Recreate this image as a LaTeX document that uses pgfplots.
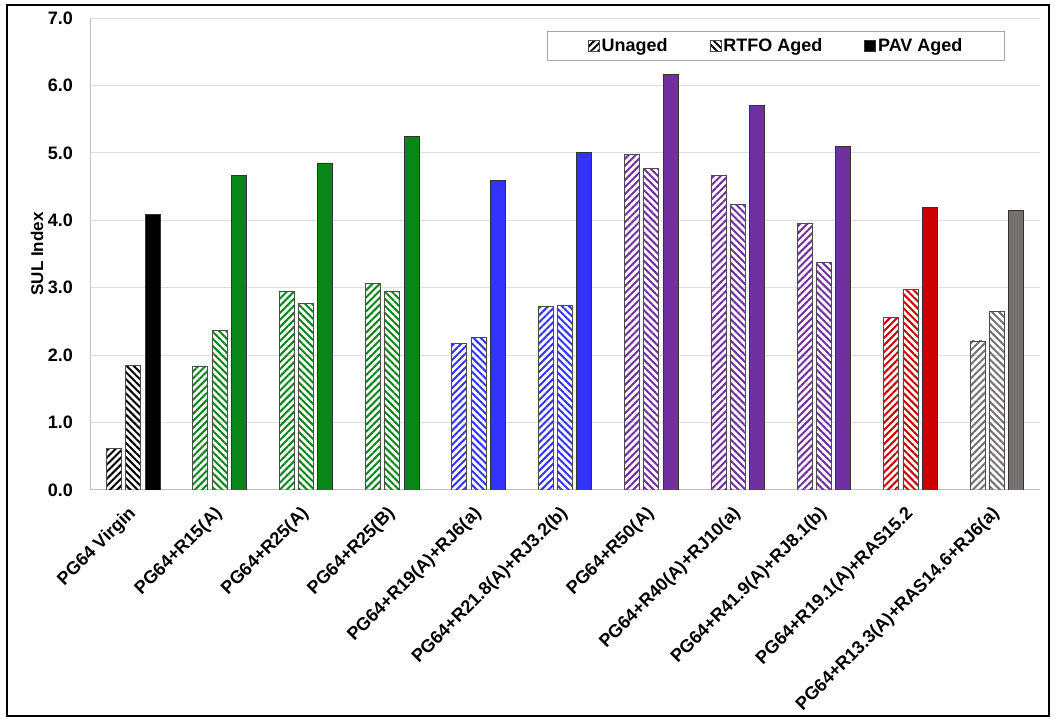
\documentclass[border=0pt]{standalone}
\usepackage{fontspec}
\setmainfont{Liberation Sans}
\usepackage{pgfplots}
\pgfplotsset{compat=1.18}
\usepackage{pgfplotstable}
\usetikzlibrary{patterns.meta}

\definecolor{cBlack}{RGB}{0,0,0}
\definecolor{cGreen}{RGB}{8,134,24}
\definecolor{cBlue}{RGB}{51,51,255}
\definecolor{cPurple}{RGB}{112,48,160}
\definecolor{cRed}{RGB}{204,0,0}
\definecolor{cGray}{RGB}{118,113,113}

% x  unaged  rtfo  pav
\pgfplotstableread{
x u r p
0 0.62 1.85 4.09
}\tblack
\pgfplotstableread{
x u r p
1 1.84 2.37 4.66
2 2.94 2.77 4.85
3 3.06 2.94 5.25
}\tgreen
\pgfplotstableread{
x u r p
4 2.17 2.26 4.59
5 2.73 2.74 5.00
}\tblue
\pgfplotstableread{
x u r p
6 4.97 4.77 6.16
7 4.67 4.24 5.70
8 3.96 3.37 5.10
}\tpurple
\pgfplotstableread{
x u r p
9 2.56 2.97 4.19
}\tred
\pgfplotstableread{
x u r p
10 2.21 2.65 4.15
}\tgray

\tikzset{
  unaged/.style={pattern={Lines[angle=45,distance=5pt,line width=2pt]}, pattern color=#1, draw=black!70, line width=0.8pt},
  rtfo/.style={pattern={Lines[angle=-45,distance=5pt,line width=2pt]}, pattern color=#1, draw=black!70, line width=0.8pt},
  pav/.style={fill=#1, draw=black!80, line width=0.8pt},
}

\newcommand{\fnt}{\bfseries\fontsize{18}{21}\selectfont}
\newcommand{\yfnt}{\bfseries\fontsize{18}{21}\selectfont}

\begin{document}
\begin{tikzpicture}
\path[use as bounding box] (0,0) rectangle (1055pt,720pt);
\draw[line width=1.3pt, black] (7pt,4pt) rectangle (1049pt,715pt);
\begin{axis}[
  at={(90pt,230pt)}, anchor=south west,
  width=950pt, height=472pt, scale only axis,
  xmin=-0.5, xmax=10.5, ymin=0, ymax=7,
  /pgf/number format/assume math mode=true,
  ytick={0,1,2,3,4,5,6,7},
  yticklabel style={/pgf/number format/.cd, fixed, fixed zerofill, precision=1, /tikz/.cd, font=\yfnt, anchor=east, inner sep=0pt, xshift=-17pt},
  xtick={0,1,2,3,4,5,6,7,8,9,10},
  xticklabels={PG64 Virgin, PG64+R15(A), PG64+R25(A), PG64+R25(B), PG64+R19(A)+RJ6(a), PG64+R21.8(A)+RJ3.2(b), PG64+R50(A), PG64+R40(A)+RJ10(a), PG64+R41.9(A)+RJ8.1(b), PG64+R19.1(A)+RAS15.2, PG64+R13.3(A)+RAS14.6+RJ6(a)},
  xticklabel style={font=\fnt, xshift=0pt, yshift=-21pt, rotate=45, anchor=east, inner sep=0pt},
  major tick length=0pt,
  axis x line*=bottom, axis y line*=left,
  axis line style={-, draw=gray!50, line width=1pt},
  ymajorgrids, grid style={draw=gray!25, line width=1pt},
  every axis y label/.style={at={(axis description cs:-0.0558,0.5)}, rotate=90, anchor=center, font=\bfseries\fontsize{17}{20}\selectfont},
  ylabel={SUL Index},
  legend columns=3,
  legend style={at={(0.963,0.972)}, anchor=north east, draw=gray!70, line width=0.8pt,
    font=\fnt, inner xsep=40pt, inner ysep=5pt,
    /tikz/every even column/.append style={column sep=40pt}},
  legend image code/.code={\draw[#1] (0pt,-5.5pt) rectangle (11pt,5.5pt);},
]
% black (legend)
\addplot[ybar, bar width=15pt, bar shift=-19.3pt, unaged=cBlack] table[x=x,y=u]{\tblack};
\addlegendentry{Unaged}
\addplot[ybar, bar width=15pt, bar shift=0pt, rtfo=cBlack] table[x=x,y=r]{\tblack};
\addlegendentry{RTFO Aged}
\addplot[ybar, bar width=15pt, bar shift=19.3pt, pav=cBlack] table[x=x,y=p]{\tblack};
\addlegendentry{PAV Aged}
% green
\addplot[forget plot, ybar, bar width=15pt, bar shift=-19.3pt, unaged=cGreen] table[x=x,y=u]{\tgreen};
\addplot[forget plot, ybar, bar width=15pt, bar shift=0pt, rtfo=cGreen] table[x=x,y=r]{\tgreen};
\addplot[forget plot, ybar, bar width=15pt, bar shift=19.3pt, pav=cGreen] table[x=x,y=p]{\tgreen};
% blue
\addplot[forget plot, ybar, bar width=15pt, bar shift=-19.3pt, unaged=cBlue] table[x=x,y=u]{\tblue};
\addplot[forget plot, ybar, bar width=15pt, bar shift=0pt, rtfo=cBlue] table[x=x,y=r]{\tblue};
\addplot[forget plot, ybar, bar width=15pt, bar shift=19.3pt, pav=cBlue] table[x=x,y=p]{\tblue};
% purple
\addplot[forget plot, ybar, bar width=15pt, bar shift=-19.3pt, unaged=cPurple] table[x=x,y=u]{\tpurple};
\addplot[forget plot, ybar, bar width=15pt, bar shift=0pt, rtfo=cPurple] table[x=x,y=r]{\tpurple};
\addplot[forget plot, ybar, bar width=15pt, bar shift=19.3pt, pav=cPurple] table[x=x,y=p]{\tpurple};
% red
\addplot[forget plot, ybar, bar width=15pt, bar shift=-19.3pt, unaged=cRed] table[x=x,y=u]{\tred};
\addplot[forget plot, ybar, bar width=15pt, bar shift=0pt, rtfo=cRed] table[x=x,y=r]{\tred};
\addplot[forget plot, ybar, bar width=15pt, bar shift=19.3pt, pav=cRed] table[x=x,y=p]{\tred};
% gray
\addplot[forget plot, ybar, bar width=15pt, bar shift=-19.3pt, unaged=cGray] table[x=x,y=u]{\tgray};
\addplot[forget plot, ybar, bar width=15pt, bar shift=0pt, rtfo=cGray] table[x=x,y=r]{\tgray};
\addplot[forget plot, ybar, bar width=15pt, bar shift=19.3pt, pav=cGray] table[x=x,y=p]{\tgray};
\end{axis}
\end{tikzpicture}
\end{document}
